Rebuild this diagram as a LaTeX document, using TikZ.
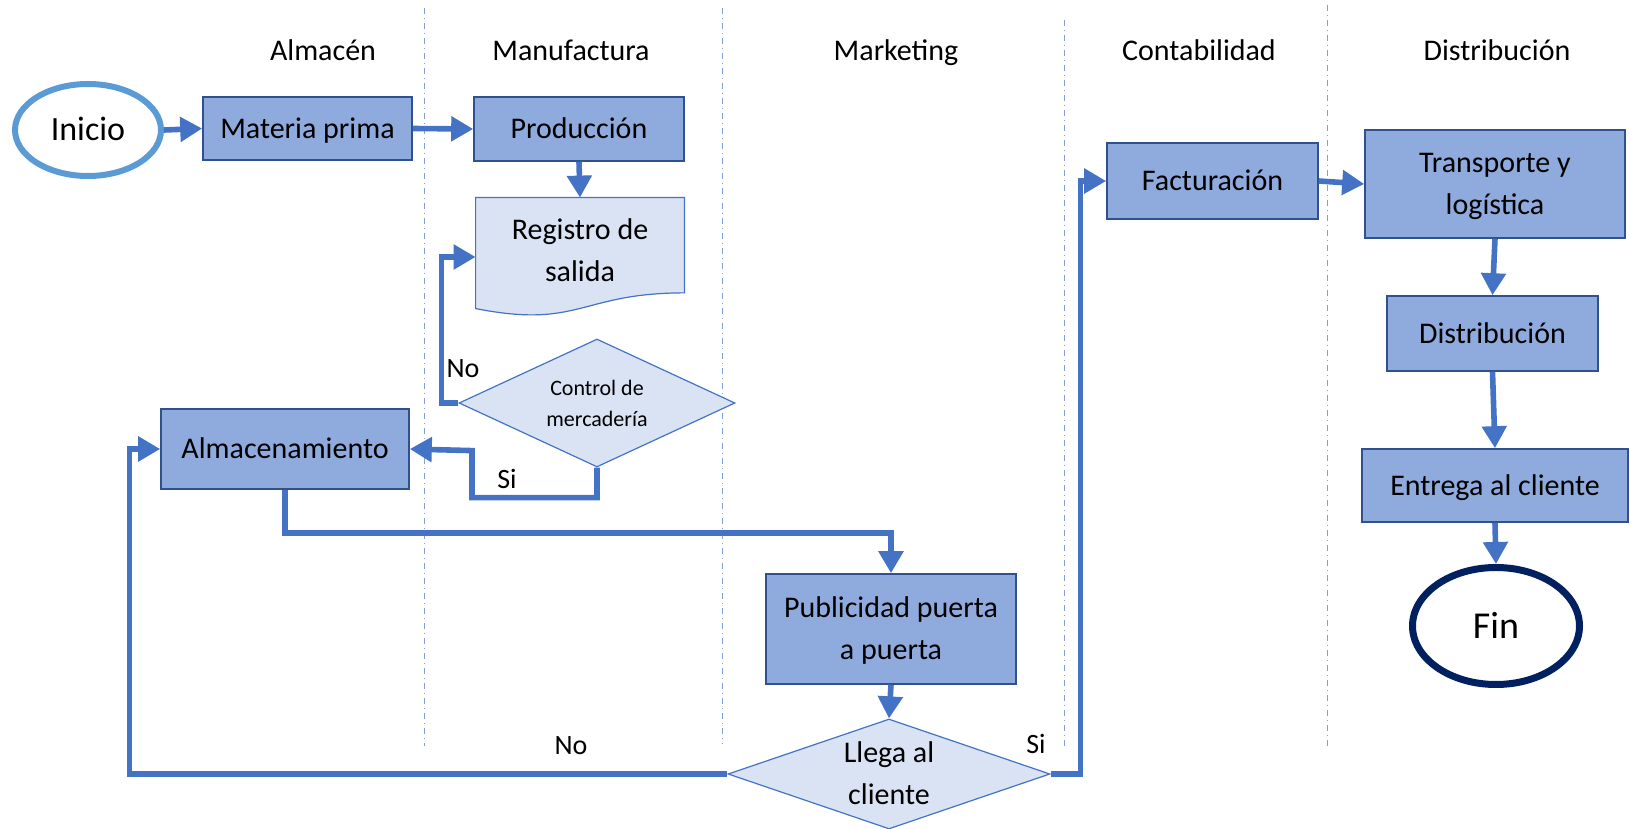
\documentclass[tikz,border=0pt]{standalone}
\usepackage{fontspec}
\setmainfont{Carlito}
\usetikzlibrary{arrows.meta,shapes.geometric,calc,backgrounds}

\definecolor{boxfill}{HTML}{8FAADC}
\definecolor{boxline}{HTML}{2F528F}
\definecolor{lightfill}{HTML}{DAE3F3}
\definecolor{flowblue}{HTML}{4472C4}
\definecolor{startblue}{HTML}{5B9BD5}
\definecolor{endnavy}{HTML}{002060}
\definecolor{lanegray}{HTML}{7F9FD8}

\newcommand{\boxfont}{\fontsize{15}{21}\selectfont}
\newcommand{\smallfont}{\fontsize{11}{15.5}\selectfont}
\newcommand{\labelfont}{\fontsize{14}{17}\selectfont}
\newcommand{\inifont}{\fontsize{17}{20}\selectfont}
\newcommand{\finfont}{\fontsize{19}{22}\selectfont}

\tikzset{
	proc/.style={draw=boxline, fill=boxfill, line width=0.8pt, align=center, inner sep=2pt, font=\boxfont},
	oneline/.style={text height=#1, text depth=0pt},
	oneline/.default=9.7pt,
	twoline/.style={text height=30.7pt, text depth=#1},
	twoline/.default=0pt,
	docbox/.style={align=center, inner sep=2pt, font=\boxfont},
	docline/.style={draw=flowblue, fill=lightfill, line width=0.6pt},
	decision/.style={diamond, draw=flowblue, fill=lightfill, line width=0.6pt, align=center, inner sep=0pt},
	terminal/.style={ellipse, fill=white, align=center, inner sep=0pt},
	flow/.style={draw=flowblue, line width=2.8pt, -{Triangle[width=12pt,length=11pt]}},
	lane/.style={font=\boxfont, anchor=base},
	divider/.style={draw=lanegray, line width=0.5pt, dash dot},
	lbl/.style={font=\labelfont, inner sep=0pt}
}

\begin{document}
\begin{tikzpicture}[x=0.5pt,y=-0.5pt]
		\useasboundingbox (0,0) rectangle (1630,829);

		% lanes
		\draw[divider] (424,8) -- (424,746);
		\draw[divider] (722,8) -- (722,744);
		\draw[divider] (1064,20) -- (1064,748);
		\draw[divider] (1327,5) -- (1327,746);

		\node[lane] (hAlm) at (323,61) {Almacén};
		\node[lane] (hMan) at (571,61) {Manufactura};
		\node[lane] (hMkt) at (896,61) {Marketing};
		\node[lane] (hCon) at (1199,61) {Contabilidad};
		\node[lane] (hDis) at (1497,61) {Distribución};

		% steps
		\node[terminal, oneline=11pt, draw=startblue, line width=3pt, minimum width=73pt,
			minimum height=46pt, font=\inifont] (ini) at (88,130) {Inicio};
		\node[proc, oneline, minimum width=104.5pt, minimum height=31.5pt] (mat)
			at (307.5,128.5) {Materia prima};
		\node[proc, oneline, minimum width=105pt, minimum height=32pt] (prod)
			at (579,129) {Producción};
		\node[docbox, twoline=6pt, minimum width=104pt, minimum height=59pt] (reg)
			at (580,257) {Registro de\\salida};
		\begin{scope}[on background layer]
			\draw[docline] (reg.north west) -- (reg.north east)
				-- ($(reg.north east)!0.802!(reg.south east)$)
				.. controls ($(reg.north)!0.802!(reg.south)$)
				and ($(reg.north)!1.1075!(reg.south)$)
				.. ($(reg.north west)!0.934!(reg.south west)$) -- cycle;
		\end{scope}
		\node[decision, aspect=2.15, minimum width=138pt, minimum height=64pt,
			font=\smallfont] (ctrl) at (597,403) {Control de\\mercadería};
		\node[proc, oneline, minimum width=124pt, minimum height=40pt] (alm)
			at (285,449) {Almacenamiento};
		\node[proc, twoline, minimum width=125pt, minimum height=55pt] (pub)
			at (891,629) {Publicidad puerta\\a puerta};
		\node[decision, twoline, aspect=2.9, minimum width=161pt, minimum height=55pt,
			font=\boxfont] (llega) at (889,774) {Llega al\\cliente};
		\node[proc, oneline, minimum width=105.5pt, minimum height=38pt] (fact)
			at (1212.5,181) {Facturación};
		\node[proc, twoline, minimum width=130pt, minimum height=54pt] (trans)
			at (1495,184) {Transporte y\\logística};
		\node[proc, oneline, minimum width=105.5pt, minimum height=37.5pt] (dist)
			at (1492.5,333.5) {Distribución};
		\node[proc, oneline, minimum width=133pt, minimum height=36.5pt] (entr)
			at (1495,485.5) {Entrega al cliente};
		\node[terminal, oneline=12.2pt, draw=endnavy, line width=3.5pt, minimum width=83.5pt,
			minimum height=58.5pt, font=\finfont] (fin) at (1496,626) {Fin};

		% connectors
		\draw[flow] (ini.east) -- (mat.west);
		\draw[flow] (mat.east) -- (prod.west);
		\draw[flow] (prod.south) -- (reg.north);
		\draw[flow] (ctrl.west) -- ++(-17,0) |- (reg.west);
		\draw[flow] (ctrl.south) -- ++(0,30) -| ++(-125,-47) -- (alm.east);
		\draw[flow] (alm.south) -- ++(0,43) -| (pub.north);
		\draw[flow] (pub.south) -- (llega.north);
		\draw[flow] (llega.west) -- ++(-598,0) |- (alm.west);
		\draw[flow] (llega.east) -- ++(30,0) |- (fact.west);
		\draw[flow] (fact.east) -- (trans.west);
		\draw[flow] (trans.south) -- (dist.north);
		\draw[flow] (dist.south) -- (entr.north);
		\draw[flow] (entr.south) -- (fin.north);

		\node[lbl] (no1) at (463,369) {No};
		\node[lbl] (si1) at (507,479) {Si};
		\node[lbl] (no2) at (571,746) {No};
		\node[lbl] (si2) at (1036,744) {Si};
\end{tikzpicture}
\end{document}
